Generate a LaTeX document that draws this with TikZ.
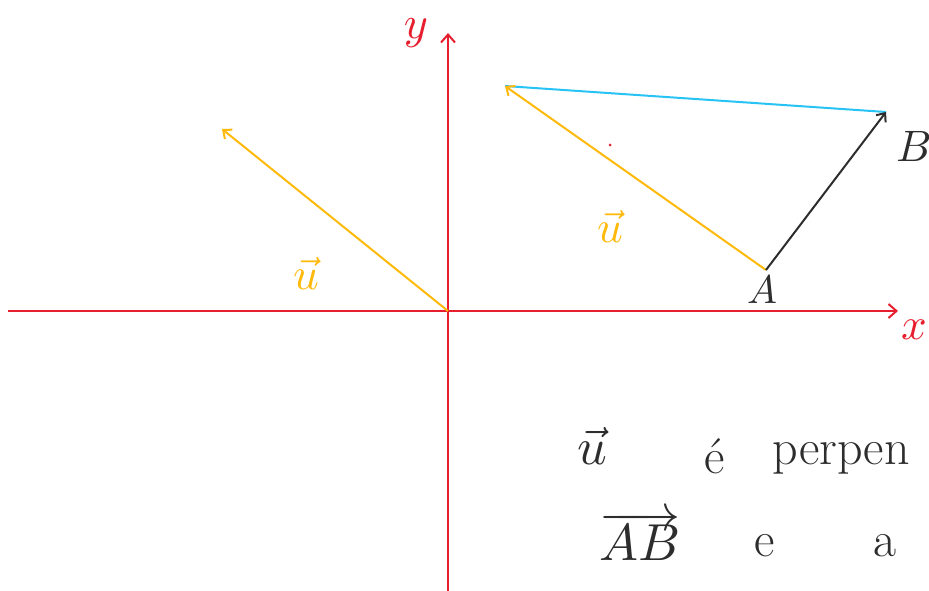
\documentclass[tikz,border=0pt]{standalone}
\usepackage{graphicx}
\usepackage{tikz}
\usetikzlibrary{arrows.meta}
\definecolor{axisred}{RGB}{230, 30, 45}
\definecolor{vecorange}{RGB}{255, 185, 10}
\definecolor{linecyan}{RGB}{40, 195, 245}
\definecolor{inkgray}{RGB}{45, 45, 45}
\newcommand{\bigmath}[2]{\scalebox{#1}{\normalsize$#2$}}

\begin{document}
\begin{tikzpicture}[x=1pt, y=-1pt,
        axis/.style={draw=axisred, line width=2pt},
        vecu/.style={draw=vecorange, line width=2pt, -{Straight Barb[length=7pt, width=12pt]}},
        vecab/.style={draw=inkgray, line width=2pt, -{Straight Barb[length=7pt, width=12pt]}},
        lbl/.style={inner sep=0pt},
        txt/.style={font=\fontsize{50}{60}\selectfont, text=inkgray, inner sep=0pt}
      ]
        \useasboundingbox (0,0) rectangle (929,591);
        % points
        \coordinate (O) at (448,311);
        \coordinate (xl) at (8,311);
        \coordinate (xr) at (898,311);
        \coordinate (yt) at (448,33);
        \coordinate (yb) at (448,591);
        \coordinate (U) at (222,129);
        \coordinate (A) at (766,270);
        \coordinate (B) at (886,112);
        \coordinate (C) at (505,86);
        % axes
        \draw[axis, -{Straight Barb[length=8pt, width=14pt]}] (xl) -- (xr);
        \draw[axis, -{Straight Barb[length=8pt, width=14pt]}] (yb) -- (yt);
        \node[lbl, text=axisred] (ylab) at (416,33) {\bigmath{4.6}{y}};
        \node[lbl, text=axisred] (xlab) at (914,330) {\bigmath{4.5}{x}};
        % vectors
        \draw[vecu] (O) -- (U);
        \node[lbl, text=vecorange] (ulab1) at (306,273) {\bigmath{4.5}{\vec{u}}};
        \draw[linecyan, line width=2pt] (C) -- (B);
        \draw[vecu] (A) -- (C);
        \node[lbl, text=vecorange] (ulab2) at (610,226) {\bigmath{4.5}{\vec{u}}};
        \draw[vecab] (A) -- (B);
        \node[lbl, text=inkgray] (Alab) at (762,290) {\bigmath{4}{A}};
        \node[lbl, text=inkgray] (Blab) at (914,146) {\bigmath{4.4}{B}};
        \fill[axisred] (610,145) circle (1.5pt);
        % text
        \node[lbl, text=inkgray] (tu) at (592,446) {\bigmath{5.2}{\vec{u}}};
        \node[txt] (te) at (715,456) {é};
        \node[txt, anchor=west] (tp) at (772,458) {perpen};
        \node[lbl, text=inkgray] (tab) at (640,536) {\bigmath{5.2}{\overrightarrow{AB}}};
        \node[txt] (te2) at (765,546) {e};
        \node[txt] (ta) at (885,546) {a};
      \end{tikzpicture}
\end{document}
